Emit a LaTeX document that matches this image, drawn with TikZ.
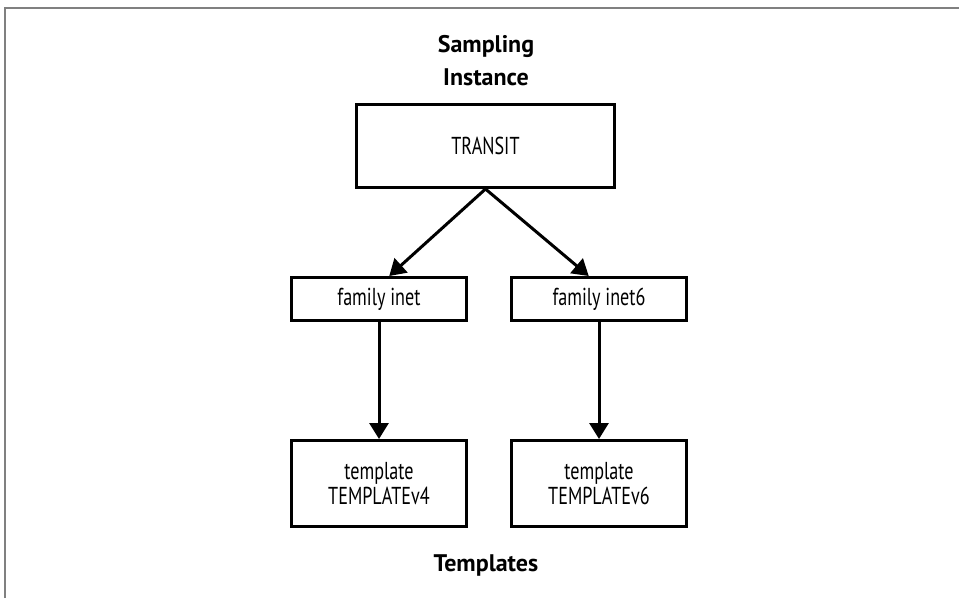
\documentclass[tikz,border=0pt]{standalone}
\usepackage{fontspec}
\setmainfont{PT Sans}[FakeStretch=0.74]
\newfontfamily\headfont{PT Sans}
\usetikzlibrary{arrows.meta}
\begin{document}
\begin{tikzpicture}[x=1pt, y=-1pt, line width=3pt,
    main/.style = {draw, rectangle, inner sep=0pt, align=center, minimum width=175pt, font=\fontsize{24.5}{25.5}\selectfont},
    head/.style = {align=center, font=\headfont\bfseries\fontsize{24}{33}\selectfont},
    arr/.style = {-{Triangle[length=16pt, width=19pt]}}]
  \useasboundingbox (0,0) rectangle (959,598);
  % frame
  \draw[line width=1.5pt, gray] (5,598) -- (5,8) -- (959,8);
  \node[head] (top) at (486,61) {Sampling\\Instance};
  \node[main, minimum width=258pt, minimum height=83pt] (t) at (485.5,146) {TRANSIT};
  \node[main, minimum height=43pt] (i4) at (379,299) {family inet};
  \node[main, minimum height=43pt] (i6) at (599,299) {family inet6};
  \node[main, minimum height=86pt] (v4) at (379,483.5) {template\\TEMPLATEv4};
  \node[main, minimum height=86pt] (v6) at (599,483.5) {template\\TEMPLATEv6};
  \node[head] (bot) at (486,565) {Templates};
  \draw[arr] (t.south) -- (i4.66);
  \draw[arr] (t.south) -- (i6.114);
  \draw[arr] (i4) -- (v4);
  \draw[arr] (i6) -- (v6);
\end{tikzpicture}
\end{document}
